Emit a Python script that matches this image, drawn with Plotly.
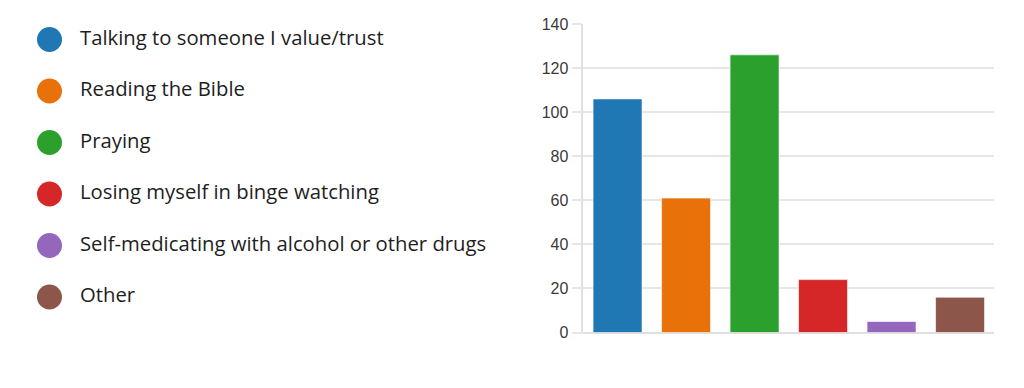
import plotly.graph_objects as go

categories = [
    "Talking to someone I value/trust",
    "Reading the Bible",
    "Praying",
    "Losing myself in binge watching",
    "Self-medicating with alcohol or other drugs",
    "Other",
]
values = [106, 61, 126, 24, 5, 16]
colors = ["#1f77b4", "#e8710a", "#2ca02c", "#d62728", "#9467bd", "#8c564b"]
y_ticks = [0, 20, 40, 60, 80, 100, 120, 140]

W, H = 1024, 388
fig = go.Figure()

fig.add_trace(go.Bar(
    x=categories, y=values,
    marker=dict(color=colors, line=dict(color="rgba(255,255,255,0.6)", width=1)),
    showlegend=False, xaxis="x", yaxis="y",
))

# custom legend drawn on a pixel-unit helper axis
idx = list(range(len(categories)))
leg_y = [39.5 + 51.5 * i for i in idx]
fig.add_trace(go.Scatter(
    x=[49.5] * len(categories), y=leg_y, mode="markers",
    marker=dict(size=25, color=colors, line=dict(width=0)),
    showlegend=False, xaxis="x2", yaxis="y2", hoverinfo="skip",
))
fig.add_trace(go.Scatter(
    x=[80] * len(categories), y=leg_y, mode="text", text=categories,
    textposition="middle right",
    textfont=dict(family="Open Sans, Noto Sans, sans-serif", size=20.3, color="#1e1e1e"),
    showlegend=False, xaxis="x2", yaxis="y2", hoverinfo="skip",
))

fig.update_layout(
    width=W, height=H,
    margin=dict(l=0, r=0, t=0, b=0, autoexpand=False),
    paper_bgcolor="white", plot_bgcolor="white",
    bargap=0.285,
    xaxis=dict(
        domain=[583.3 / W, 994.3 / W], automargin=False,
        showticklabels=False, ticks="", showgrid=False,
        showline=False, zeroline=False,
    ),
    yaxis=dict(
        domain=[(H - 332.5) / H, (H - 24) / H], automargin=False,
        range=[0, 140], tickvals=y_ticks,
        showgrid=True, gridcolor="#e6e6e6", gridwidth=1.5,
        zeroline=True, zerolinecolor="#e0e0e0", zerolinewidth=1.5,
        showline=True, linecolor="#e0e0e0", linewidth=1.5,
        ticks="outside", ticklen=10, tickcolor="#e6e6e6", tickwidth=1.5,
        tickfont=dict(family="Liberation Sans, Arial, sans-serif", size=16, color="#3a3a3a"),
    ),
    xaxis2=dict(domain=[0, 0.55], range=[0, 0.55 * W], visible=False,
                fixedrange=True, automargin=False, anchor="y2"),
    yaxis2=dict(domain=[0, 1], range=[H, 0], visible=False,
                fixedrange=True, automargin=False, anchor="x2"),
)

fig.write_html("out.html")
